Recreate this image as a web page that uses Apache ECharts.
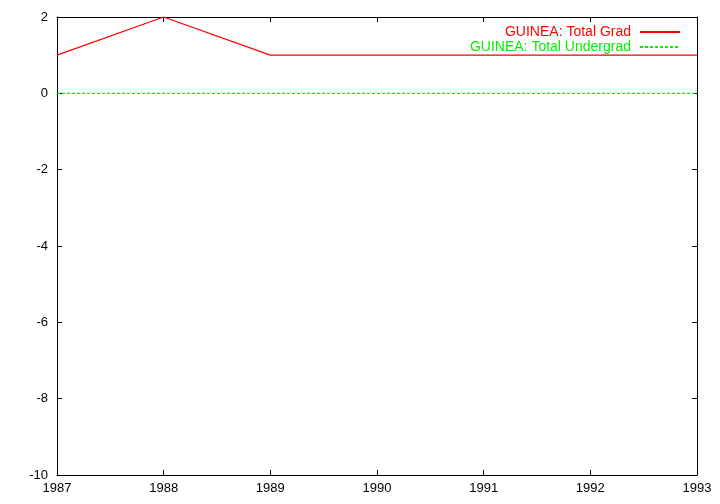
<!DOCTYPE html>
<html><head><meta charset="utf-8">
<script src="https://cdn.jsdelivr.net/npm/echarts@6/dist/echarts.min.js"></script>
<style>html,body{margin:0;padding:0;background:#fff}#c{width:720px;height:504px}</style>
</head><body><div id="c"></div>
<script>
const years = [1987, 1988, 1989, 1990, 1991, 1992, 1993];
const totalGrad = [1, 2, 1, 1, 1, 1, 1];
const totalUndergrad = [0, 0, 0, 0, 0, 0, 0];
const seriesNames = ['GUINEA: Total Grad', 'GUINEA: Total Undergrad'];
const yTicks = [-10, -8, -6, -4, -2, 0, 2];

const font = '"Liberation Sans", Arial, sans-serif';
const chart = echarts.init(document.getElementById('c'));
const axisCommon = {
  axisLine: {show: true, onZero: false, lineStyle: {color: '#000', width: 1}},
  axisTick: {show: true, inside: true, length: 5, lineStyle: {color: '#000'}},
  splitLine: {show: false}
};
chart.setOption({
  animation: false,
  backgroundColor: '#fff',
  grid: {left: 57, right: 23, top: 17, bottom: 29, containLabel: false},
  legend: {
    orient: 'vertical', right: 34, top: 20, align: 'right',
    itemWidth: 40, itemHeight: 12, itemGap: 1,
    itemStyle: {opacity: 0},
    textStyle: {fontFamily: font, fontSize: 14, lineHeight: 12, padding: [0, 4, 0, 0]},
    data: [
      {name: seriesNames[0], textStyle: {color: '#ff0000'}},
      {name: seriesNames[1], textStyle: {color: '#00ee00'}}
    ]
  },
  xAxis: [
    Object.assign({type: 'value', min: years[0], max: years[years.length-1], interval: 1, position: 'bottom',
      axisLabel: {color: '#000', fontFamily: font, fontSize: 13, margin: 7, formatter: v => String(v)}}, axisCommon),
    Object.assign({type: 'value', min: years[0], max: years[years.length-1], interval: 1, position: 'top',
      axisLabel: {show: false}}, axisCommon)
  ],
  yAxis: [
    Object.assign({type: 'value', min: yTicks[0], max: yTicks[yTicks.length-1], interval: 2, position: 'left',
      axisLabel: {color: '#000', fontFamily: font, fontSize: 13, margin: 9}}, axisCommon),
    Object.assign({type: 'value', min: yTicks[0], max: yTicks[yTicks.length-1], interval: 2, position: 'right',
      axisLabel: {show: false}}, axisCommon)
  ],
  series: [
    {name: seriesNames[0], type: 'line', symbol: 'none', data: years.map((y,i)=>[y, totalGrad[i]]),
      lineStyle: {color: '#ff0000', width: 1.3}, itemStyle: {color: '#ff0000'}},
    {name: seriesNames[1], type: 'line', symbol: 'none', data: years.map((y,i)=>[y, totalUndergrad[i]]),
      lineStyle: {color: '#00ee00', width: 1.3, type: [3, 2]}, itemStyle: {color: '#00ee00'}}
  ]
});
</script></body></html>
